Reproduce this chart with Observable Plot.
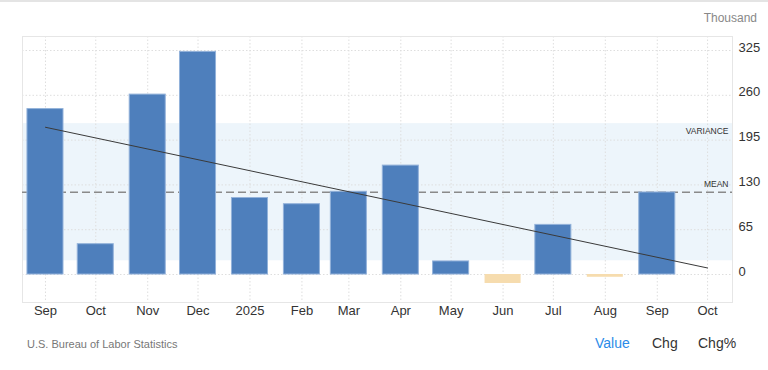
<!DOCTYPE html>
<html>
<head>
<meta charset="utf-8">
<script src="https://cdn.jsdelivr.net/npm/d3@7"></script>
<script src="https://cdn.jsdelivr.net/npm/@observablehq/plot@0.6"></script>
<style>
  html, body { margin: 0; padding: 0; background: #fff; }
  body { font-family: "Liberation Sans", Arial, sans-serif; }
  #wrap { position: relative; width: 768px; height: 370px; overflow: hidden; }
  #wrap svg { position: absolute; left: 0; top: 0; }
  .topline { position: absolute; left: 0; top: 0; width: 768px; height: 2px; background: #e4e4e4; }
  .unit { position: absolute; right: 11px; top: 11px; font-size: 12px; color: #888; }
  .source { position: absolute; left: 27px; top: 338px; font-size: 11px; color: #777; }
  .tabs { position: absolute; top: 335px; font-size: 14px; color: #333; }
</style>
</head>
<body>
<div id="wrap">
  <div class="topline"></div>
  <div class="unit">Thousand</div>
  <div class="source">U.S. Bureau of Labor Statistics</div>
  <div class="tabs" style="left:595px;color:#2b8be8">Value</div>
  <div class="tabs" style="left:652px">Chg</div>
  <div class="tabs" style="left:698px">Chg%</div>
</div>
<script>
// Data (thousands, monthly change in nonfarm payrolls)
const months = ["2024-09-01","2024-10-01","2024-11-01","2024-12-01","2025-01-01","2025-02-01","2025-03-01","2025-04-01","2025-05-01","2025-06-01","2025-07-01","2025-08-01","2025-09-01"];
const values = [240, 44, 261, 323, 111, 102, 120, 158, 19, -13, 72, -4, 119];
const tickMonths = ["2024-09-01","2024-10-01","2024-11-01","2024-12-01","2025-01-01","2025-02-01","2025-03-01","2025-04-01","2025-05-01","2025-06-01","2025-07-01","2025-08-01","2025-09-01","2025-10-01"];
const yTicks = [0, 65, 130, 195, 260, 325];

const data = months.map((m, i) => ({date: new Date(m), value: values[i], i}));
const tickDates = tickMonths.map(m => new Date(m));

// statistics
const mean = d3.mean(values);
const sd = Math.sqrt(d3.mean(values, v => (v - mean) ** 2));
const xm = d3.mean(data, d => d.i);
const slope = d3.sum(data, d => (d.i - xm) * (d.value - mean)) / d3.sum(data, d => (d.i - xm) ** 2);
const intercept = mean - slope * xm;
const trend = [
  {date: tickDates[0], v: intercept},
  {date: tickDates[tickDates.length - 1], v: intercept + slope * (tickDates.length - 1)}
];

const blue = "#4e7fbc", blueStroke = "#93b2da", orange = "#f6dcae";
const half = h => d => d3.utcHour.offset(d.date, h);

const chart = Plot.plot({
  width: 768,
  height: 370,
  marginTop: 36,
  marginBottom: 68,
  marginLeft: 22,
  marginRight: 36,
  style: {fontFamily: "'Liberation Sans', Arial, sans-serif", fontSize: "13px", color: "#333", background: "transparent"},
  x: {type: "utc", domain: [d3.utcHour.offset(tickDates[0], -329), d3.utcHour.offset(tickDates[13], 357)], label: null},
  y: {domain: [-40.6, 345.3], label: null},
  marks: [
    Plot.rect([{}], {y1: mean - sd, y2: mean + sd, fill: "#edf5fb"}),
    Plot.gridX(tickDates, {stroke: "#dedede", strokeOpacity: 1, strokeDasharray: "1.5,2"}),
    Plot.gridY(yTicks, {stroke: "#dedede", strokeOpacity: 1, strokeDasharray: "1.5,2"}),
    Plot.frame({stroke: "#e6e6e6"}),
    Plot.ruleY([mean], {stroke: "#8a8a8a", strokeWidth: 1.5, strokeDasharray: "8,4"}),
    Plot.rect(data.filter(d => d.value >= 0), {x1: half(-258), x2: half(258), y1: 0, y2: "value", fill: blue, stroke: blueStroke, strokeWidth: 1}),
    Plot.rect(data.filter(d => d.value < 0), {x1: half(-258), x2: half(258), y1: 0, y2: "value", fill: orange}),
    Plot.line(trend, {x: "date", y: "v", stroke: "#3a3a3a", strokeWidth: 1}),
    Plot.text([mean], {y: d => d, frameAnchor: "right", textAnchor: "end", dx: -4, dy: -8, text: () => "MEAN", fontSize: 8.5, fill: "#333"}),
    Plot.text([mean + sd], {y: d => d, frameAnchor: "right", textAnchor: "end", dx: -4, dy: 8, text: () => "VARIANCE", fontSize: 8.5, fill: "#333"}),
    Plot.axisX(tickDates, {tickSize: 0, tickPadding: 3, fontSize: 13, tickFormat: d => d.getUTCMonth() === 0 ? String(d.getUTCFullYear()) : d3.utcFormat("%b")(d)}),
    Plot.axisY(yTicks, {anchor: "right", tickSize: 0, tickPadding: 6, dy: -3, fontSize: 13})
  ]
});
document.getElementById("wrap").prepend(chart);
</script>
</body>
</html>
